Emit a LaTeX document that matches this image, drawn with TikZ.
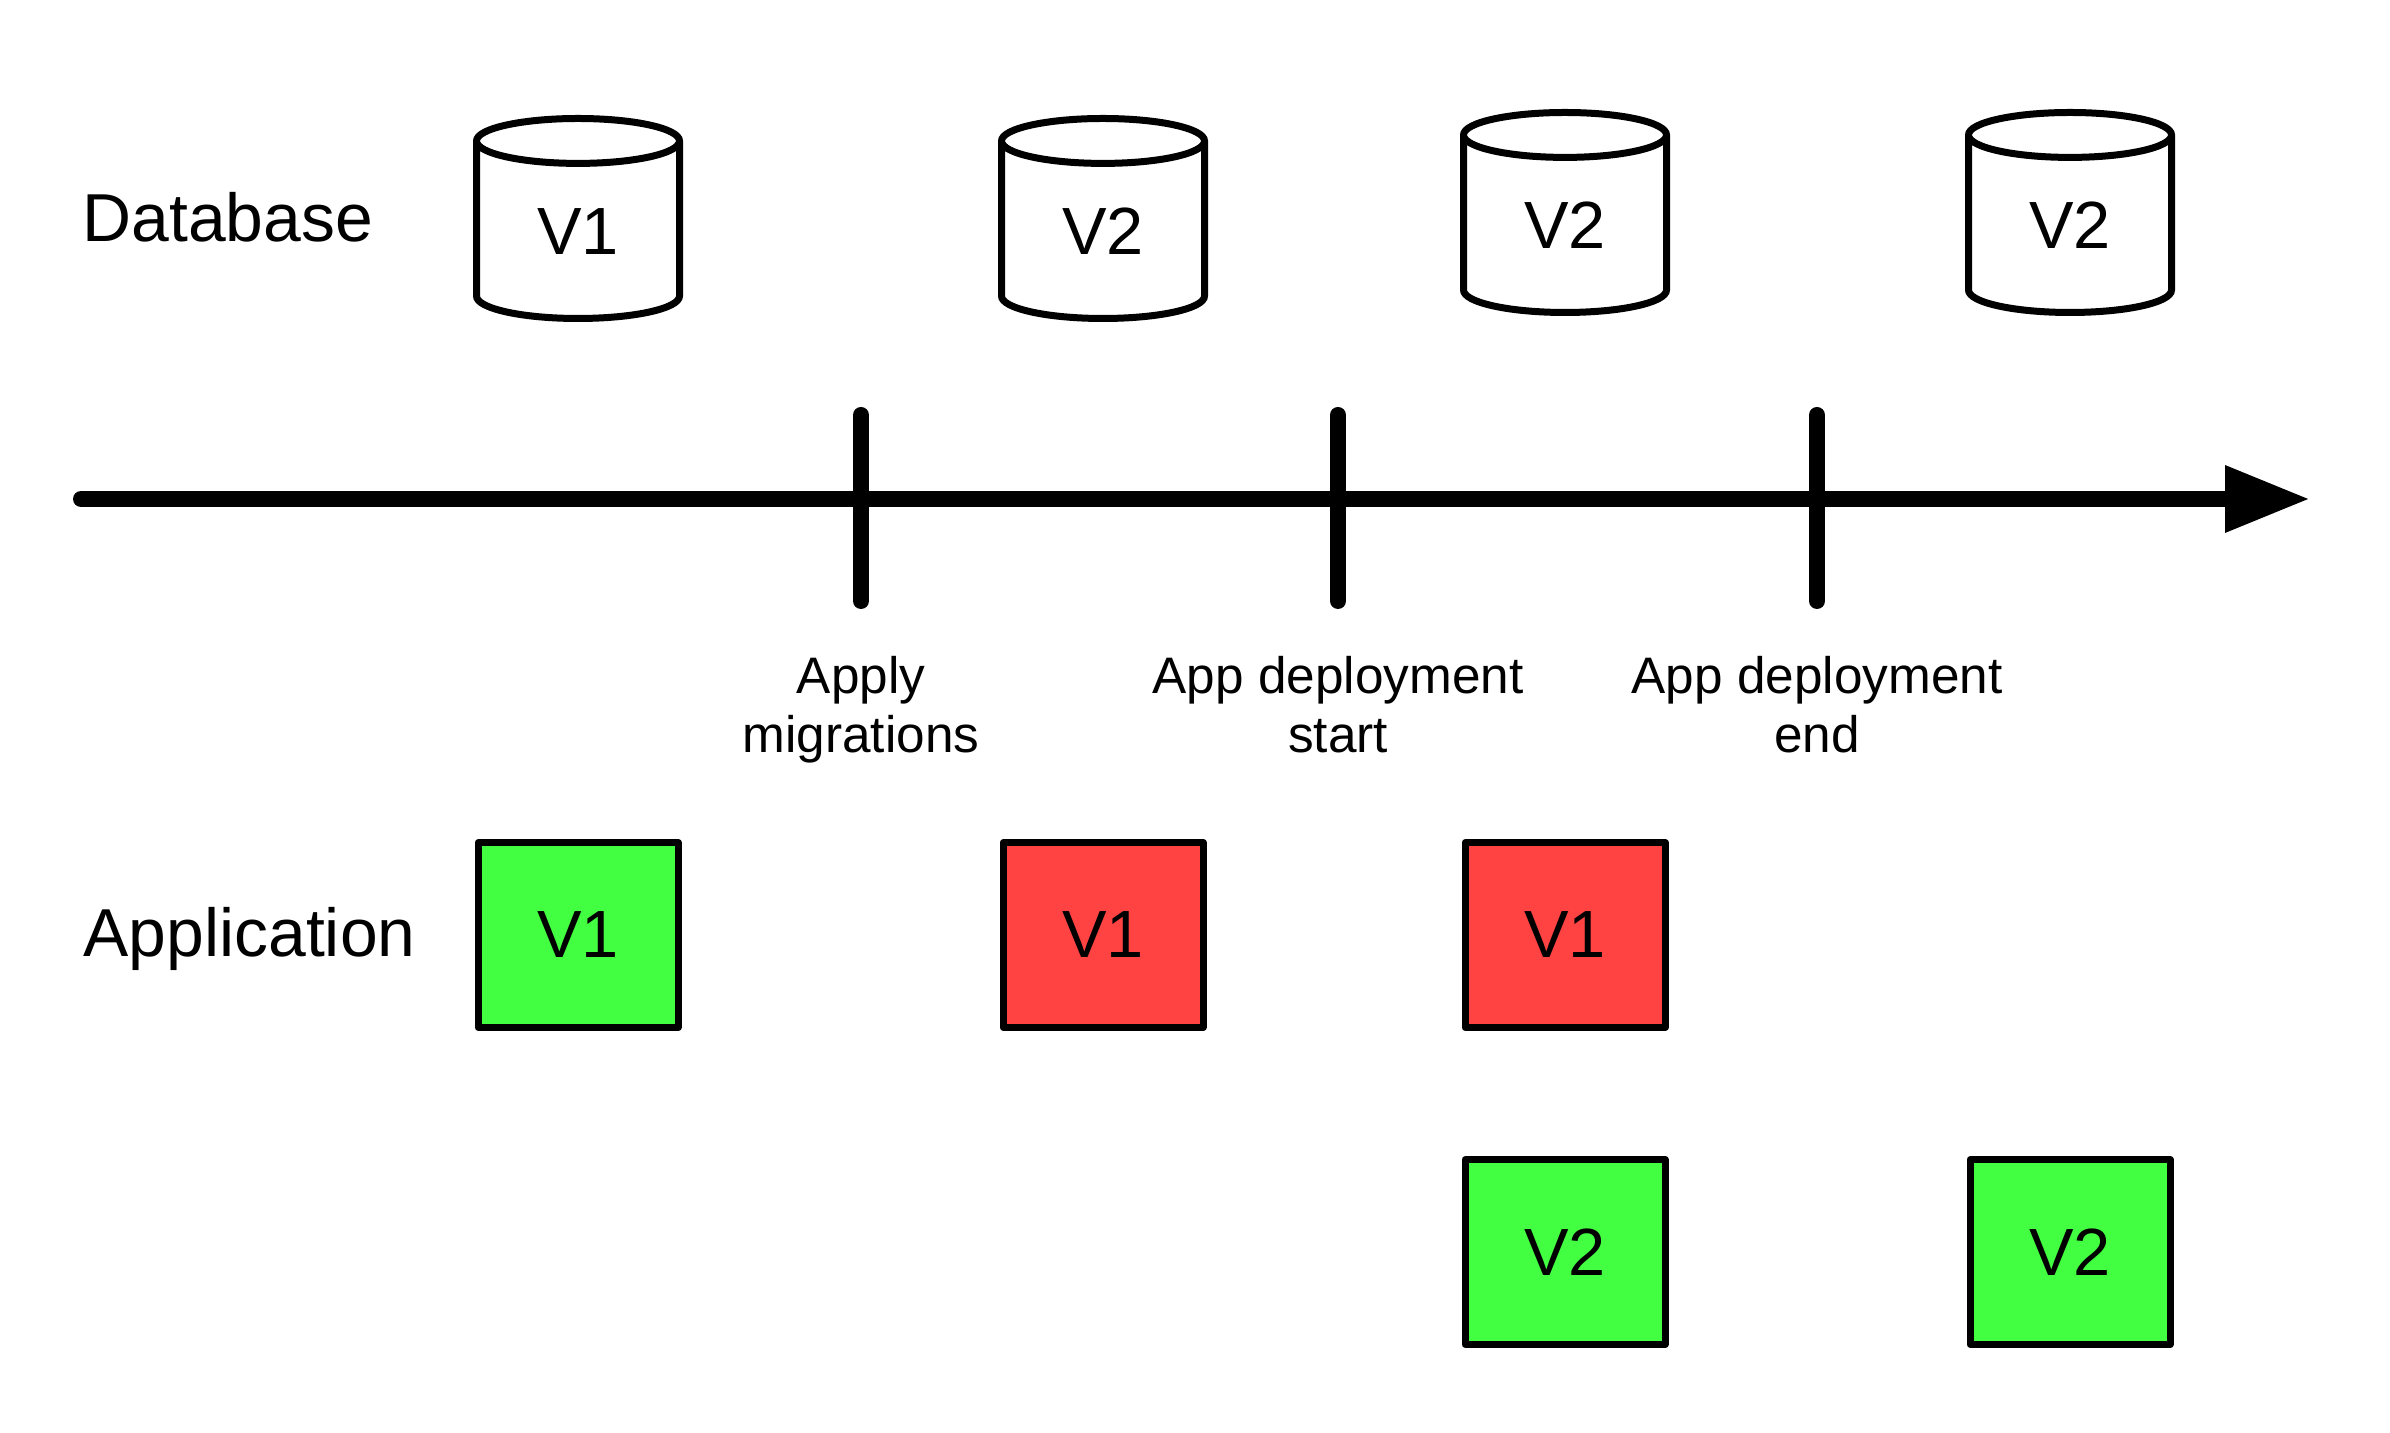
\documentclass[tikz,border=0pt]{standalone}
\usepackage{fontspec}
\setmainfont{Liberation Sans}
\usepackage{xcolor}
\definecolor{AppGreen}{HTML}{42FF42}
\definecolor{AppRed}  {HTML}{FF4343}
\usetikzlibrary{arrows.meta,positioning,shapes.geometric}

\begin{document}
\begin{tikzpicture}[
  dbcyl/.style={cylinder,shape border rotate=90,aspect=0.55,draw,
    line width=0.07cm,minimum width=2.03cm,minimum height=2.0cm,
    inner sep=0pt,anchor=shape center,font=\fontsize{19}{22}\selectfont},
  appbox/.style={draw,line width=0.07cm,line join=round,
    minimum width=2cm,minimum height=1.85cm,inner sep=0pt,
    font=\fontsize{19}{22}\selectfont},
  okbox/.style={appbox,fill=AppGreen},
  oldbox/.style={appbox,fill=AppRed},
  rowlbl/.style={anchor=base west,inner sep=0pt,
    font=\fontsize{19.3}{22}\selectfont},
  lbl/.style={align=center,inner sep=0pt,
    font=\fontsize{14.6}{16.8}\selectfont},
  tickln/.style={line width=0.16cm,line cap=round}]
  \useasboundingbox (0,0) rectangle (23.9,-14.33);
  % Row titles
  \node[rowlbl](DB) at (0.82,-2.42){Database};
  \node[rowlbl](AP) at (0.83,-9.57){Application};
  % Timeline
  \coordinate (T0) at (0.81,-4.99);
  \coordinate (T1) at (23.10,-4.99);
  \coordinate (M) at (8.61,-4.99);
  \coordinate (S) at (13.38,-4.99);
  \coordinate (E) at (18.17,-4.99);
  \draw[line width=0.16cm,line cap=round,
    -{Triangle[length=0.85cm,width=0.63cm]}](T0)--(T1);
  \draw[tickln]([yshift=0.84cm]M)--([yshift=-1.02cm]M);
  \draw[tickln]([yshift=0.84cm]S)--([yshift=-1.02cm]S);
  \draw[tickln]([yshift=0.84cm]E)--([yshift=-1.02cm]E);
  \node[lbl,below=1.57cm of M](ML){Apply\\migrations};
  \node[lbl,below=1.57cm of S](SL){App deployment\\start};
  \node[lbl,below=1.57cm of E](EL){App deployment\\end};
  % Database versions
  \node[dbcyl](D1) at (5.78,-2.185){V1};
  \node[dbcyl](D2) at (11.03,-2.185){V2};
  \node[dbcyl](D3) at (15.65,-2.125){V2};
  \node[dbcyl](D4) at (20.70,-2.125){V2};
  % Application versions
  \node[okbox](A1) at (5.78,-9.35){V1};
  \node[oldbox](A2) at (11.03,-9.35){V1};
  \node[oldbox](A3) at (15.65,-9.35){V1};
  \node[okbox,below=1.25cm of A3](A4){V2};
  \node[okbox](A5) at (20.70,-12.52){V2};
\end{tikzpicture}
\end{document}
